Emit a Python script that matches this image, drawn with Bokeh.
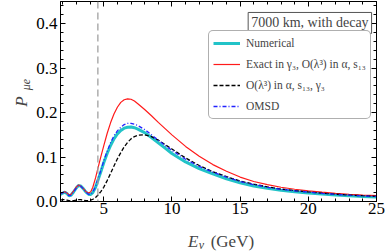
from math import pi
from bokeh.plotting import figure
from bokeh.models import (Range1d, LinearAxis, SingleIntervalTicker, PrintfTickFormatter,
                          Span, Legend, LegendItem, Label)
from bokeh.embed import file_html
from bokeh.resources import INLINE

# ---- data ----
E = [1.83, 2.0, 2.15, 2.3, 2.45, 2.6, 2.8, 3.0, 3.15, 3.3, 3.5, 3.7, 3.9, 4.05, 4.2, 4.4,
     4.6, 4.8, 5.0, 5.25, 5.5, 5.75, 6.0, 6.25, 6.5, 6.75, 7.0, 7.25, 7.5, 8.0, 8.5, 9.0,
     9.5, 10, 11, 12, 13, 14, 15, 16, 17, 18, 19, 20, 21, 22, 23, 24, 25]

numerical = [0.016, 0.019, 0.021, 0.018, 0.013, 0.014, 0.022, 0.031, 0.036, 0.035, 0.029,
             0.021, 0.016, 0.016, 0.020, 0.032, 0.050, 0.068, 0.087, 0.108, 0.126, 0.141,
             0.152, 0.160, 0.165, 0.167, 0.1675, 0.166, 0.163, 0.155, 0.144, 0.132, 0.120,
             0.108, 0.089, 0.074, 0.062, 0.051, 0.042, 0.035, 0.030, 0.0255, 0.022, 0.0193,
             0.0168, 0.0148, 0.013, 0.0115, 0.0102]

exact_g3 = [0.017, 0.020, 0.022, 0.019, 0.015, 0.016, 0.024, 0.033, 0.037, 0.035, 0.029,
            0.022, 0.019, 0.022, 0.032, 0.053, 0.078, 0.102, 0.125, 0.153, 0.177, 0.197,
            0.212, 0.223, 0.229, 0.231, 0.230, 0.226, 0.220, 0.207, 0.193, 0.178, 0.164,
            0.150, 0.124, 0.102, 0.083, 0.068, 0.055, 0.045, 0.038, 0.032, 0.0275, 0.024,
            0.021, 0.0185, 0.0163, 0.0145, 0.013]

olam3 = [0.003, 0.004, 0.004, 0.003, 0.002, 0.001, 0.002, 0.003, 0.004, 0.004, 0.003,
         0.002, 0.002, 0.003, 0.005, 0.009, 0.015, 0.023, 0.032, 0.047, 0.063, 0.080,
         0.096, 0.110, 0.123, 0.133, 0.141, 0.146, 0.149, 0.150, 0.146, 0.138, 0.128,
         0.118, 0.098, 0.081, 0.067, 0.056, 0.046, 0.039, 0.033, 0.028, 0.0245, 0.0215,
         0.0188, 0.0165, 0.0146, 0.013, 0.0115]

omsd = [0.017, 0.020, 0.022, 0.018, 0.013, 0.014, 0.022, 0.031, 0.036, 0.035, 0.029,
        0.021, 0.016, 0.016, 0.021, 0.034, 0.052, 0.071, 0.091, 0.113, 0.132, 0.148,
        0.159, 0.167, 0.173, 0.176, 0.176, 0.174, 0.171, 0.162, 0.150, 0.138, 0.126,
        0.115, 0.095, 0.079, 0.066, 0.055, 0.045, 0.038, 0.032, 0.0275, 0.024, 0.021,
        0.0183, 0.016, 0.0142, 0.0126, 0.0112]

resonance_E = 4.57
x_ticks_step = 5
y_ticks_step = 0.1
legend_labels = ["Numerical", "Exact in γ₃, O(λ³) in α, s₁₃", "O(λ³) in α, s₁₃, γ₃", "OMSD"]
box_text = "7000 km, with decay"

SERIF = "'Liberation Serif'"

p = figure(width=386, height=251, output_backend="svg", toolbar_location=None,
           x_range=Range1d(1.83, 25.0), y_range=Range1d(0, 0.45),
           min_border_left=53, min_border_right=9, min_border_top=1, min_border_bottom=50)
p.xgrid.visible = False
p.ygrid.visible = False
p.outline_line_color = "black"
p.outline_line_width = 1


def style(ax, ticker, labels=True, standoff=4):
    ax.ticker = ticker
    ax.axis_line_color = "black"
    ax.major_tick_in = 5
    ax.major_tick_out = 0
    ax.minor_tick_in = 3
    ax.minor_tick_out = 0
    ax.major_tick_line_color = "black"
    ax.minor_tick_line_color = "black"
    ax.major_label_text_font = SERIF
    if labels:
        ax.major_label_text_color = "black"
        ax.major_label_text_font_size = "17px"
        ax.major_label_standoff = standoff
    else:
        ax.major_label_text_color = None
        ax.major_label_text_font_size = "0px"
        ax.major_label_standoff = 0


xt = SingleIntervalTicker(interval=x_ticks_step, num_minor_ticks=5)
yt = SingleIntervalTicker(interval=y_ticks_step, num_minor_ticks=5)
style(p.xaxis[0], xt, standoff=1)
style(p.yaxis[0], yt, standoff=3)
p.yaxis[0].formatter = PrintfTickFormatter(format="%.1f")

top = LinearAxis()
style(top, xt, labels=False)
p.add_layout(top, "above")
right = LinearAxis()
style(right, yt, labels=False)
p.add_layout(right, "right")

p.add_layout(Span(location=resonance_E, dimension="height", line_color="#a0a0a0",
                  line_width=1.3, line_dash="7 4"))

r_num = p.line(E, numerical, line_color="#22c3c8", line_width=3)
r_ex = p.line(E, exact_g3, line_color="#ff1a1a", line_width=1.2)
r_o3 = p.line(E, olam3, line_color="black", line_width=1.3, line_dash="4 2")
r_om = p.line(E, omsd, line_color="#2222ff", line_width=1.3, line_dash="4 2 1 2")

legend = Legend(items=[LegendItem(label=legend_labels[0], renderers=[r_num]),
                       LegendItem(label=legend_labels[1], renderers=[r_ex]),
                       LegendItem(label=legend_labels[2], renderers=[r_o3]),
                       LegendItem(label=legend_labels[3], renderers=[r_om])],
                location=(148, 82), orientation="vertical",
                label_text_font=SERIF, label_text_font_size="11.5px",
                glyph_width=27, glyph_height=16, label_height=16, spacing=5,
                padding=4, margin=0, label_standoff=6,
                border_line_color="#606060", border_line_width=1,
                background_fill_color="white", background_fill_alpha=1)
if "border_radius" in Legend.properties():
    legend.border_radius = 5
p.add_layout(legend)

p.add_layout(Label(x=24.64, y=0.4017, text=box_text, text_align="right",
                   text_baseline="middle", text_font=SERIF, text_font_size="14px",
                   border_line_color="#555555", background_fill_color="white",
                   padding=3))

# axis titles, placed in side panels so they are not clipped to the frame
p.add_layout(Label(x=-1.048, y=0.225, text="P", angle=pi / 2, text_font=SERIF,
                   text_font_style="italic", text_font_size="17px",
                   text_align="center", text_baseline="middle"), "left")
p.add_layout(Label(x=-0.688, y=0.263, text="μe", angle=pi / 2, text_font=SERIF,
                   text_font_style="italic", text_font_size="12px",
                   text_align="center", text_baseline="middle"), "left")
p.add_layout(Label(x=11.18, y=-0.091, text="E", text_font=SERIF,
                   text_font_style="italic", text_font_size="17px",
                   text_align="left", text_baseline="middle"), "right")
p.add_layout(Label(x=11.97, y=-0.098, text="ν", text_font=SERIF,
                   text_font_style="italic", text_font_size="12px",
                   text_align="left", text_baseline="middle"), "below")
p.add_layout(Label(x=12.84, y=-0.091, text="(GeV)", text_font=SERIF,
                   text_font_size="17px", text_align="left", text_baseline="middle"), "below")

open("out.html", "w").write(file_html(p, INLINE))
